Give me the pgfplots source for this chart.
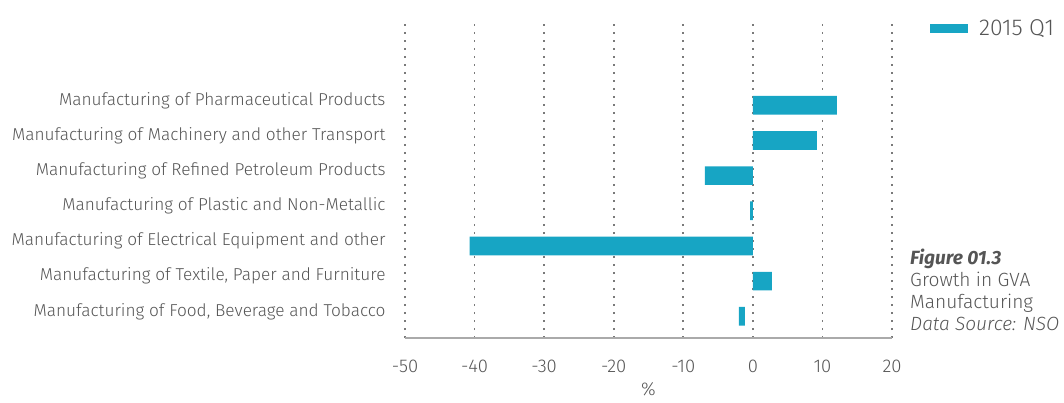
\documentclass[border=0pt]{standalone}
\usepackage{fontspec}
\setmainfont{Fira Sans}[UprightFont={* Light}, ItalicFont={* Light Italic}, BoldFont={* Bold}, BoldItalicFont={* Bold Italic}]
\usepackage{pgfplots}
\pgfplotsset{compat=1.18}
\definecolor{barc}{HTML}{17A5C4}
\definecolor{txt}{HTML}{555555}
\definecolor{gridc}{HTML}{7A7A7A}
\definecolor{axc}{HTML}{AAAAAA}
\begin{document}
\begin{tikzpicture}[x=1bp,y=1bp]
\path[use as bounding box] (0,0) rectangle (1064,402);
\begin{axis}[
  at={(405bp,64bp)}, anchor=south west,
  scale only axis, width=487bp, height=318bp,
  xbar stacked, bar width=18.7bp,
  xmin=-50, xmax=20, ymin=-0.617, ymax=8.425,
  xtick={-50,-40,-30,-20,-10,0,10,20},
  ytick={0,1,2,3,4,5,6},
  yticklabels={{Manufacturing of Food, Beverage and Tobacco},
    {Manufacturing of Textile, Paper and Furniture},
    {Manufacturing of Electrical Equipment and other},
    {Manufacturing of Plastic and Non-Metallic},
    {Manufacturing of Refined Petroleum Products},
    {Manufacturing of Machinery and other Transport},
    {Manufacturing of Pharmaceutical Products}},
  major tick length=0pt,
  axis x line*=bottom, axis y line*=left,
  y axis line style={draw=none},
  x axis line style={axc, line width=1.2bp},
  xmajorgrids,
  major grid style={gridc, line width=1.8bp, dash pattern=on 1.8bp off 6.2bp},
  /pgf/number format/assume math mode=true,
  xticklabel style={font=\fontsize{18.5}{20}\selectfont, text=txt, yshift=-19bp},
  yticklabel style={font=\fontsize{17.3}{19}\selectfont, text=txt, xshift=-16bp, yshift=5bp},
  xlabel={\%}, xlabel style={font=\fontsize{18.5}{20}\selectfont, text=txt, yshift=-3bp},
  legend style={draw=none, fill=none, at={(1.078,1.008)}, anchor=north west,
    font=\fontsize{23}{24}\selectfont, text=txt, inner sep=0pt},
  legend image code/.code={\fill[barc] (0bp,-4.5bp) rectangle (38bp,4.5bp); \path (47bp,0);},
  clip=false,
]
\addplot[draw=none, fill=none, forget plot] coordinates {
  (-1.15,0) (0,1) (0,2) (0,3) (0,4) (0,5) (0,6)};
\addplot[draw=none, fill=barc] coordinates {
  (-0.85,0) (2.73,1) (-40.7,2) (-0.4,3) (-6.9,4) (9.2,5) (12.07,6)};
\legend{2015 Q1}
\end{axis}
\node[anchor=west, text=txt, align=left, font=\fontsize{19.2}{22}\selectfont, inner sep=0pt]
  at (910bp,112bp) {\textbf{\textit{Figure 01.3}}\\Growth in GVA\\Manufacturing\\\textit{Data Source: NSO}};
\end{tikzpicture}
\end{document}
